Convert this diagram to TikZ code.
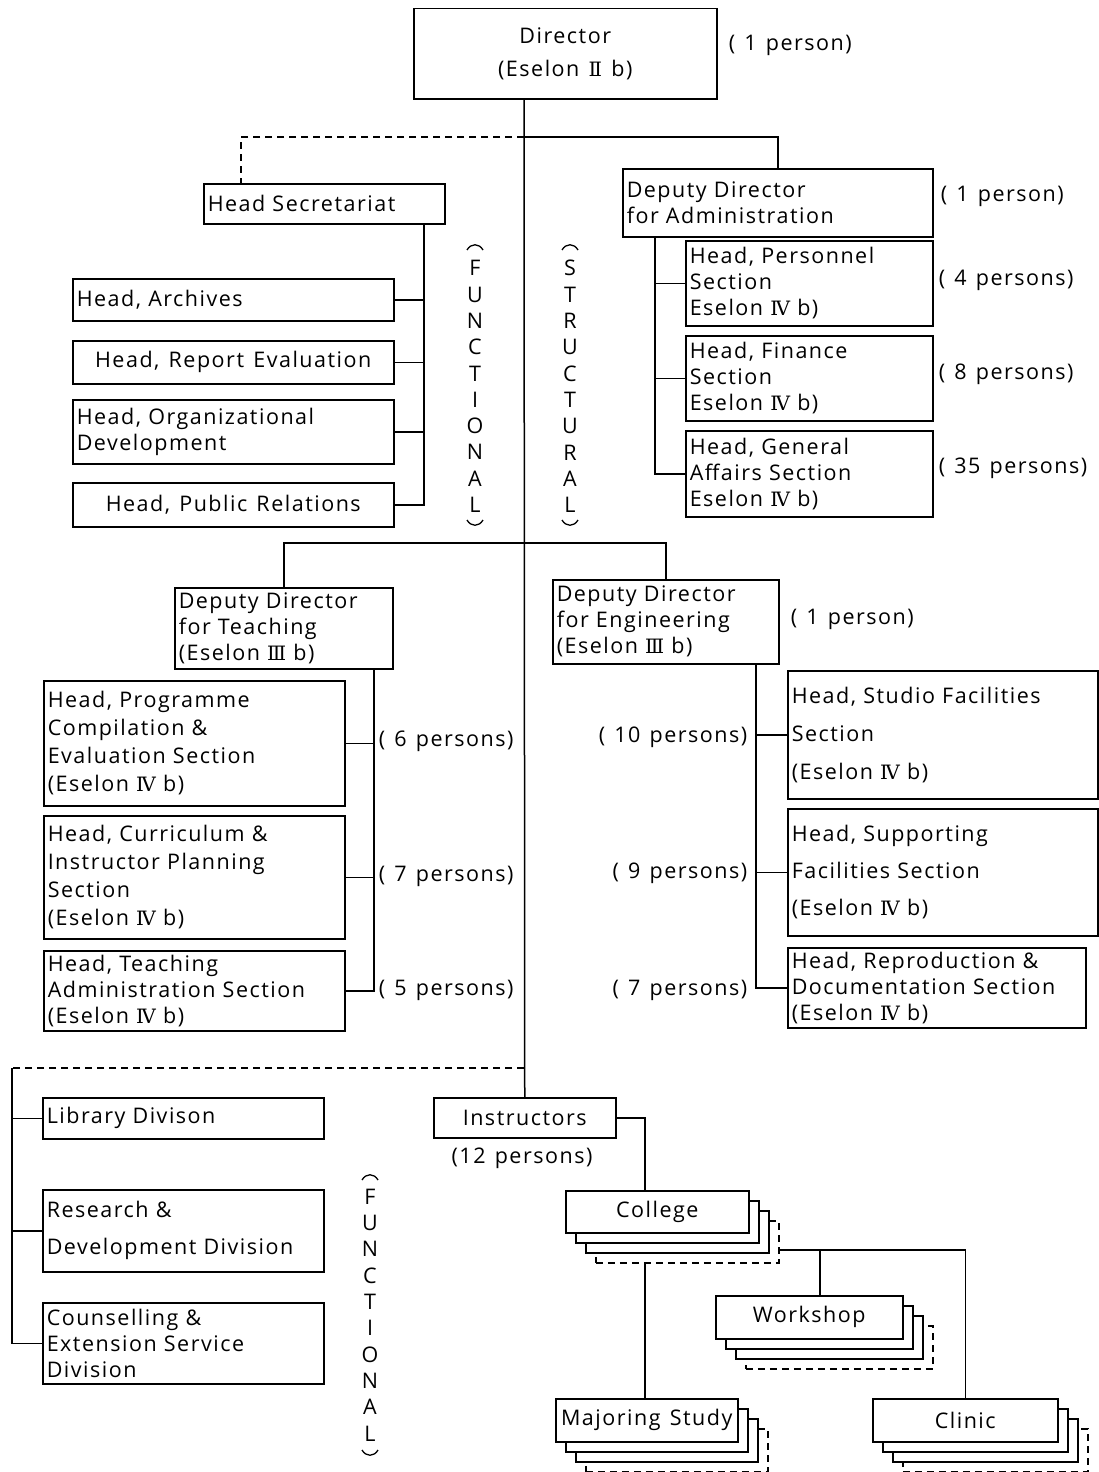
\documentclass[tikz,border=0pt]{standalone}
\usepackage{fontspec}
\usepackage{graphicx}
\setmainfont{Open Sans}[LetterSpace=7,WordSpace=1.3]
\newfontfamily\numf{DejaVu Serif}[Scale=0.92]
\newcommand\rnum[1]{{\numf #1}}
\usetikzlibrary{calc}
\newcommand\stackbox[6]{%
  \node[lay,dashline,minimum width=#4pt,minimum height=#5pt] (#1c) at (#2+30,#3+30) {};
  \node[lay,minimum width=#4pt,minimum height=#5pt] (#1b) at (#2+20,#3+20) {};
  \node[lay,minimum width=#4pt,minimum height=#5pt] (#1a) at (#2+10,#3+10) {};
  \node[lay,align=center,minimum width=#4pt,minimum height=#5pt] (#1) at (#2,#3) {#6};}
\begin{document}
\begin{tikzpicture}[x=1pt,y=-1pt,line width=1.5pt,
  every node/.style={font=\fontsize{21.5}{26}\selectfont},
  box/.style={draw,fill=white,anchor=north west,inner xsep=4pt,inner ysep=0pt,align=left},
  cbox/.style={draw,fill=white,anchor=north west,inner sep=0pt,align=center},
  lay/.style={draw,fill=white,anchor=north west,inner sep=0pt},
  lbl/.style={inner sep=0pt},
  vtext/.style={inner sep=0pt,align=center,font=\fontsize{21.5}{26.3}\selectfont},
  dashline/.style={dash pattern=on 7pt off 5pt},
  arcline/.style={line width=1.3pt}]
\useasboundingbox (0,0) rectangle (1098,1472);

% ---------- top ----------
\node[cbox,minimum width=303pt,minimum height=90pt] (dir) at (413,8) {Director\\[7pt](Eselon \rnum{Ⅱ} b)};
\node[lbl,anchor=west] (ldir) at (728,45) {( 1 person)};

\node[box,minimum width=241pt,minimum height=40pt,text width=233pt] (sec) at (203,183) {Head Secretariat};
\node[box,minimum width=321pt,minimum height=42pt,text width=313pt] (arch) at (72,278) {Head, Archives};
\node[cbox,minimum width=321pt,minimum height=43pt] (rep) at (72,340) {Head, Report Evaluation};
\node[box,minimum width=321pt,minimum height=64pt,text width=313pt] (org) at (72,399) {Head, Organizational\\Development};
\node[cbox,minimum width=321pt,minimum height=44pt] (pr) at (72,482) {Head, Public Relations};

\node[box,minimum width=310pt,minimum height=68pt,text width=302pt] (adm) at (622,168) {Deputy Director\\for Administration};
\node[lbl,anchor=west] (ladm) at (940,196) {( 1 person)};
\node[box,minimum width=247pt,minimum height=85pt,text width=239pt] (per) at (685,240) {Head, Personnel\\Section\\Eselon \rnum{Ⅳ} b)};
\node[box,minimum width=247pt,minimum height=85pt,text width=239pt] (fin) at (685,335) {Head, Finance\\Section\\Eselon \rnum{Ⅳ} b)};
\node[box,minimum width=247pt,minimum height=86pt,text width=239pt] (gen) at (685,430) {Head, General\\Affairs Section\\Eselon \rnum{Ⅳ} b)};
\node[lbl,anchor=west] (lper) at (938,280) {( 4 persons)};
\node[lbl,anchor=west] (lfin) at (938,374) {( 8 persons)};
\node[lbl,anchor=west] (lgen) at (938,468) {( 35 persons)};

% vertical words
\node[vtext] (fun1) at (475,386.5) {F\\U\\N\\C\\T\\I\\O\\N\\A\\L};
\node[vtext] (str1) at (570,386.5) {S\\T\\R\\U\\C\\T\\U\\R\\A\\L};
\draw[arcline] (467,250) .. controls (471,243) and (479,243) .. (483,250);
\draw[arcline] (467,520) .. controls (471,527) and (479,527) .. (483,520);
\draw[arcline] (562,250) .. controls (566,243) and (574,243) .. (578,250);
\draw[arcline] (562,520) .. controls (566,527) and (574,527) .. (578,520);

% ---------- middle ----------
\node[box,minimum width=218pt,minimum height=81pt,text width=210pt] (tea) at (174,587) {Deputy Director\\for Teaching\\(Eselon \rnum{Ⅲ} b)};
\node[box,minimum width=226pt,minimum height=84pt,text width=218pt] (eng) at (552,579) {Deputy Director\\for Engineering\\(Eselon \rnum{Ⅲ} b)};
\node[lbl,anchor=west] (leng) at (790,619) {( 1 person)};

\node[box,minimum width=301pt,minimum height=125pt,text width=293pt] (prog) at (43,680) {Head, Programme\\[2pt]Compilation \&\\[2pt]Evaluation Section\\[2pt](Eselon \rnum{Ⅳ} b)};
\node[box,minimum width=301pt,minimum height=123pt,text width=293pt] (cur) at (43,815) {Head, Curriculum \&\\[2pt]Instructor Planning\\[2pt]Section\\[2pt](Eselon \rnum{Ⅳ} b)};
\node[box,minimum width=301pt,minimum height=80pt,text width=293pt] (tad) at (43,950) {Head, Teaching\\Administration Section\\(Eselon \rnum{Ⅳ} b)};
\node[lbl,anchor=west] (lprog) at (378,741) {( 6 persons)};
\node[lbl,anchor=west] (lcur) at (378,876) {( 7 persons)};
\node[lbl,anchor=west] (ltad) at (378,990) {( 5 persons)};

\node[box,minimum width=310pt,minimum height=128pt,text width=302pt] (stu) at (787,670) {Head, Studio Facilities\\[12pt]Section\\[12pt](Eselon \rnum{Ⅳ} b)};
\node[box,minimum width=310pt,minimum height=127pt,text width=302pt] (sup) at (787,808) {Head, Supporting\\[11pt]Facilities Section\\[11pt](Eselon \rnum{Ⅳ} b)};
\node[box,minimum width=298pt,minimum height=80pt,text width=290pt] (repro) at (787,947) {Head, Reproduction \&\\Documentation Section\\(Eselon \rnum{Ⅳ} b)};
\node[lbl,anchor=east] (lstu) at (748,737) {( 10 persons)};
\node[lbl,anchor=east] (lsup) at (748,873) {( 9 persons)};
\node[lbl,anchor=east] (lrep) at (748,990) {( 7 persons)};

% ---------- bottom ----------
\node[box,minimum width=281pt,minimum height=41pt,text width=273pt] (lib) at (42,1097) {Library Divison};
\node[box,minimum width=281pt,minimum height=82pt,text width=273pt] (res) at (42,1189) {Research \&\\[11pt]Development Division};
\node[box,minimum width=281pt,minimum height=81pt,text width=273pt] (cou) at (42,1302) {Counselling \&\\Extension Service\\Division};

\node[cbox,minimum width=182pt,minimum height=40pt] (ins) at (433,1097) {Instructors};
\node[lbl] (lins) at (522,1158) {(12 persons)};

\node[vtext] (fun2) at (370,1315) {F\\U\\N\\C\\T\\I\\O\\N\\A\\L};
\draw[arcline] (362,1180) .. controls (366,1173) and (374,1173) .. (378,1180);
\draw[arcline] (362,1450) .. controls (366,1457) and (374,1457) .. (378,1450);

\stackbox{col}{565}{1190}{183}{42}{College}
\stackbox{wk}{715}{1295}{187}{43}{Workshop}
\stackbox{maj}{555}{1398}{182}{43}{Majoring Study}
\stackbox{clin}{872}{1398}{185}{43}{Clinic}

% ---------- connectors ----------
\coordinate (tr) at (524,0);
\draw (dir.south -| tr) -- (ins.north);

\coordinate (t1) at (524,137);
\coordinate (sd) at (241,137);
\draw[dashline] (t1) -- (sd) -- (sd |- sec.north);
\draw (t1) -| (adm.north);

\coordinate (sv) at (424,0);
\draw (sec.south -| sv) |- (pr.east);
\draw (arch.east) -- (arch.east -| sv);
\draw (rep.east) -- (rep.east -| sv);
\draw (org.east) -- (org.east -| sv);

\coordinate (av) at (655,0);
\draw (adm.south -| av) |- (gen.west);
\draw (per.west) -- (per.west -| av);
\draw (fin.west) -- (fin.west -| av);

\coordinate (m1) at (524,543);
\draw (tea.north) |- (m1) -| (eng.north);

\coordinate (tv) at (374,0);
\draw (tea.south -| tv) |- (tad.east);
\draw (prog.east) -- (prog.east -| tv);
\draw (cur.east) -- (cur.east -| tv);

\coordinate (ev) at (756,0);
\draw (eng.south -| ev) |- (repro.west);
\draw (stu.west) -- (stu.west -| ev);
\draw (sup.west) -- (sup.west -| ev);

\coordinate (l1) at (524,1068);
\coordinate (l0) at (12,1068);
\draw[dashline] (l1) -- (l0);
\draw (l0) |- (cou.west);
\draw (lib.west) -- (lib.west -| l0);
\draw (res.west) -- (res.west -| l0);

\coordinate (vc) at (645,0);
\draw (ins.east) -| (col.north -| vc);
\draw (colc.south -| vc) -- (maj.north -| vc);
\coordinate (wj) at (820,1250);
\draw (colc.east |- wj) -- (wj) -- (wj |- wk.north);
\draw (wj) -| (clin.north);
\end{tikzpicture}
\end{document}
